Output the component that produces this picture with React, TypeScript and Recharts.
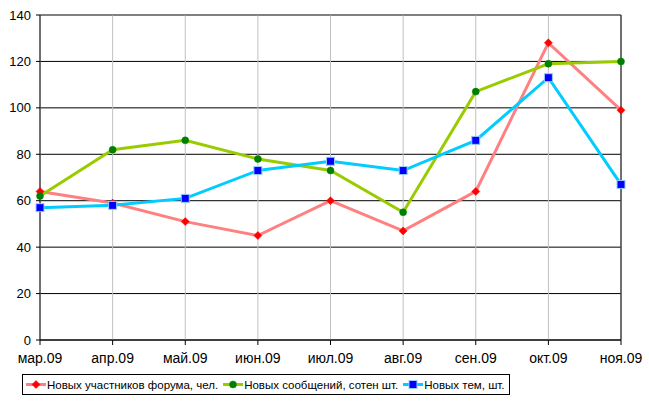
import React from "react";
import {
  LineChart,
  Line,
  XAxis,
  YAxis,
  CartesianGrid,
  Legend,
  ReferenceLine,
} from "recharts";

const months = ["мар.09", "апр.09", "май.09", "июн.09", "июл.09", "авг.09", "сен.09", "окт.09", "ноя.09"];
const members = [64, 59, 51, 45, 60, 47, 64, 128, 99];
const messages = [62, 82, 86, 78, 73, 55, 107, 119, 120];
const topics = [57, 58, 61, 73, 77, 73, 86, 113, 67];
const yTicks = [0, 20, 40, 60, 80, 100, 120, 140];

const seriesNames = {
  members: "Новых участников форума, чел.",
  messages: "Новых сообщений, сотен шт.",
  topics: "Новых тем, шт.",
};

const data = months.map((m, i) => ({
  month: m,
  members: members[i],
  messages: messages[i],
  topics: topics[i],
}));

const FONT = "'Liberation Sans', Arial, sans-serif";

function Diamond({ cx, cy }: any) {
  if (cx == null || cy == null) return null;
  const r = 4;
  return (
    <polygon
      points={`${cx},${cy - r} ${cx + r},${cy} ${cx},${cy + r} ${cx - r},${cy}`}
      fill="#ff0000"
      stroke="#ff0000"
      strokeWidth={0.5}
    />
  );
}

function Dot({ cx, cy }: any) {
  if (cx == null || cy == null) return null;
  return <circle cx={cx} cy={cy} r={3.5} fill="#008000" stroke="#008000" strokeWidth={0.5} />;
}

function Square({ cx, cy }: any) {
  if (cx == null || cy == null) return null;
  return <rect x={cx - 4} y={cy - 4} width={8} height={8} fill="#0000ff" stroke="#99ccff" strokeWidth={1} />;
}

function Marker({ kind, x, y }: { kind: string; x: number; y: number }) {
  if (kind === "members") return <Diamond cx={x} cy={y} />;
  if (kind === "messages") return <Dot cx={x} cy={y} />;
  return <Square cx={x} cy={y} />;
}

const legendItems = [
  { key: "members", color: "#ff8080" },
  { key: "messages", color: "#99cc00" },
  { key: "topics", color: "#00ccff" },
];

function ChartLegend() {
  return (
    <div
      style={{
        display: "inline-flex",
        alignItems: "center",
        border: "1px solid #000",
        padding: "1px 4px 1px 3px",
        fontFamily: FONT,
        fontSize: 11.5,
        color: "#000",
        background: "#fff",
        gap: 5,
      }}
    >
      {legendItems.map((it) => (
        <span key={it.key} style={{ display: "inline-flex", alignItems: "center" }}>
          <svg width={20} height={17} style={{ marginRight: 1 }}>
            <line x1={0} y1={8.5} x2={20} y2={8.5} stroke={it.color} strokeWidth={3} />
            <Marker kind={it.key} x={10} y={8.5} />
          </svg>
          {(seriesNames as any)[it.key]}
        </span>
      ))}
    </div>
  );
}

export default function App() {
  return (
    <div style={{ position: "absolute", left: 0, top: 0, width: 649, height: 404, background: "#fff" }}>
      <LineChart width={649} height={404} data={data} margin={{ top: 15, right: 28, bottom: 8, left: 0 }}>
        <CartesianGrid stroke="#000" vertical={false} />
        <CartesianGrid stroke="#c0c0c0" horizontal={false} />
        <ReferenceLine y={140} stroke="#808080" />
        <ReferenceLine x="ноя.09" stroke="#000" />
        <XAxis
          dataKey="month"
          tick={{ fill: "#000", fontSize: 14, fontFamily: FONT, dy: 6 }}
          tickLine={{ stroke: "#000" }}
          axisLine={{ stroke: "#000" }}
          tickSize={5}
          height={33}
          interval={0}
        />
        <YAxis
          domain={[0, 140]}
          ticks={yTicks}
          tick={{ fill: "#000", fontSize: 13, fontFamily: FONT, dx: -3 }}
          tickLine={{ stroke: "#000" }}
          axisLine={{ stroke: "#000" }}
          tickSize={4}
          width={40}
          interval={0}
        />
        <Legend
          verticalAlign="bottom"
          align="left"
          wrapperStyle={{ left: 22, bottom: 7 }}
          content={() => <ChartLegend />}
        />
        <Line
          dataKey="members"
          name={seriesNames.members}
          stroke="#ff8080"
          strokeWidth={3}
          dot={<Diamond />}
          activeDot={false}
          isAnimationActive={false}
        />
        <Line
          dataKey="messages"
          name={seriesNames.messages}
          stroke="#99cc00"
          strokeWidth={3}
          dot={<Dot />}
          activeDot={false}
          isAnimationActive={false}
        />
        <Line
          dataKey="topics"
          name={seriesNames.topics}
          stroke="#00ccff"
          strokeWidth={3}
          dot={<Square />}
          activeDot={false}
          isAnimationActive={false}
        />
      </LineChart>
    </div>
  );
}
